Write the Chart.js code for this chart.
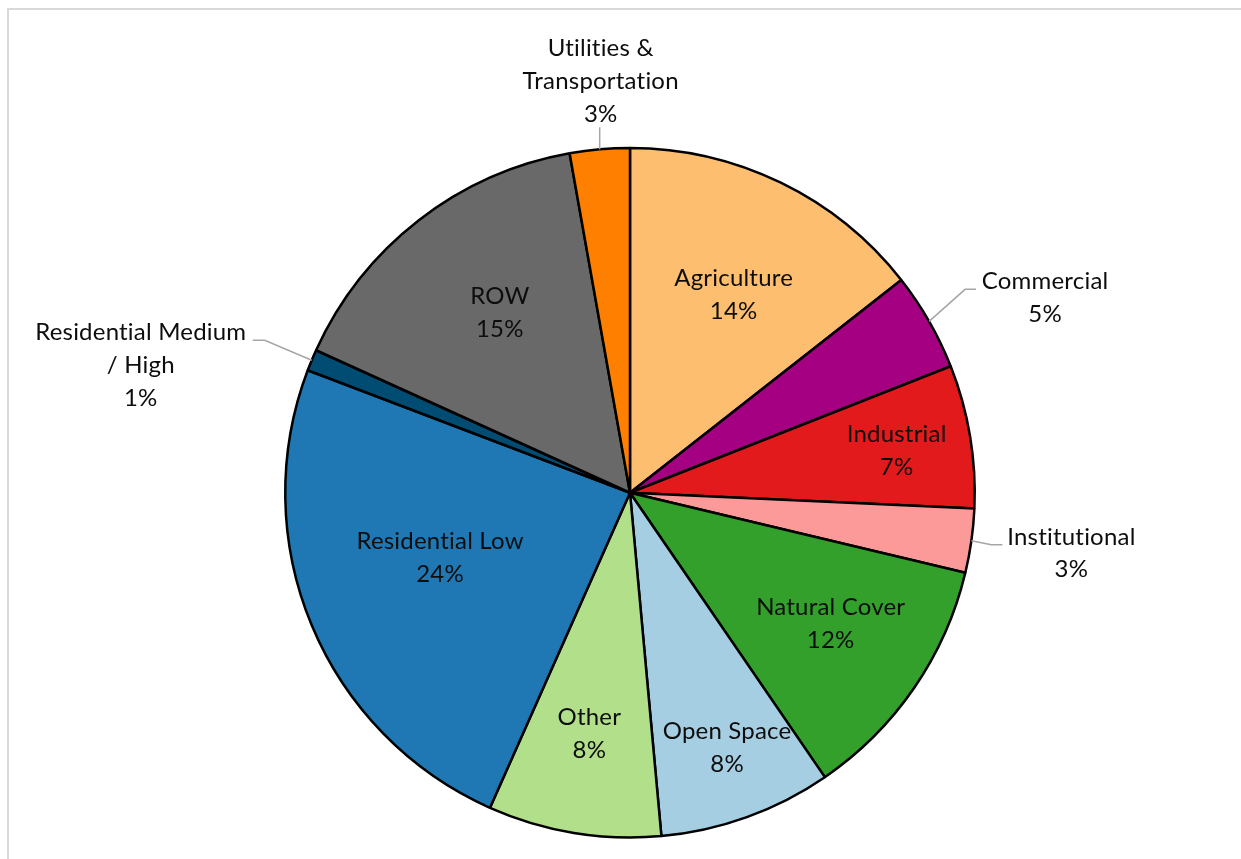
<!DOCTYPE html>
<html>
<head>
<meta charset="utf-8">
<script src="https://cdn.jsdelivr.net/npm/chart.js@4.4.1/dist/chart.umd.min.js"></script>
<style>
  html, body { margin: 0; padding: 0; background: #fff; overflow: hidden; }
  #frame { position: absolute; left: 7px; top: 8px; width: 1400px; height: 1000px; border: 2px solid #D9D9D9; box-sizing: border-box; }
  #wrap { position: absolute; left: 0; top: 0; width: 1241px; height: 859px; }
</style>
</head>
<body>
<div id="frame"></div>
<div id="wrap"><canvas id="c" width="1241" height="859"></canvas></div>
<script>
// ---- data ----
const categories = ["Agriculture", "Commercial", "Industrial", "Institutional", "Natural Cover",
  "Open Space", "Other", "Residential Low", "Residential Medium / High", "ROW", "Utilities & Transportation"];
const labelLines = [["Agriculture"], ["Commercial"], ["Industrial"], ["Institutional"], ["Natural Cover"],
  ["Open Space"], ["Other"], ["Residential Low"], ["Residential Medium", "/ High"], ["ROW"], ["Utilities &", "Transportation"]];
const shares = [14.4, 4.6, 6.7, 3.0, 11.7, 8.1, 8.1, 24.1, 1.0, 15.4, 2.8];
const colors = ["#FDBF6F", "#A50082", "#E31A1C", "#FB9A99", "#33A02C",
  "#A6CEE3", "#B2DF8A", "#1F78B4", "#004C73", "#696969", "#FF7F00"];

// ---- label placement (style) ----
// inside: radial fraction + angle tweak (deg); outside: leader geometry relative to the arc edge
const labelLayout = [
  { inside: true, rf: 0.648, da: 1.7 },
  { inside: false, d1: [36, -32], d2: 11, tx: 69, ty: -8 },
  { inside: true, rf: 0.783, da: 0.5 },
  { inside: false, d1: [20, 4], d2: 11, tx: 69, ty: -8 },
  { inside: true, rf: 0.695, da: -1.4 },
  { inside: true, rf: 0.792, da: -1.0 },
  { inside: true, rf: 0.71, da: 0.2 },
  { inside: true, rf: 0.582, da: 3.8 },
  { inside: false, d1: [-47, -20], d2: -12, tx: -112, ty: -8 },
  { inside: true, rf: 0.645, da: 2.0 },
  { inside: false, d1: [0, -22], d2: 0, tx: 1, ty: -79 }
];

const FONT = '24px Lato, "Open Sans", sans-serif';
const LINE_H = 32.8;

const labelPlugin = {
  id: "sliceLabels",
  afterDatasetsDraw(chart) {
    const ctx = chart.ctx;
    const meta = chart.getDatasetMeta(0);
    const data = chart.data.datasets[0].data;
    const total = data.reduce((a, b) => a + b, 0);
    ctx.save();
    ctx.font = FONT;
    if ("letterSpacing" in ctx) ctx.letterSpacing = "0.2px";
    ctx.fillStyle = "#0d0d0d";
    ctx.textBaseline = "middle";
    ctx.textAlign = "center";
    meta.data.forEach((arc, i) => {
      const p = arc.getProps(["x", "y", "startAngle", "endAngle", "outerRadius"], true);
      const L = labelLayout[i];
      const pct = Math.round(data[i] / total * 100) + "%";
      const lines = labelLines[i].concat([pct]);
      const mid = (p.startAngle + p.endAngle) / 2;
      if (L.inside) {
        const a = mid + L.da * Math.PI / 180;
        const r = p.outerRadius * L.rf;
        const cx = p.x + Math.cos(a) * r;
        const cy = p.y + Math.sin(a) * r;
        const y0 = cy - (lines.length - 1) * LINE_H / 2;
        lines.forEach((t, k) => ctx.fillText(t, cx, y0 + k * LINE_H));
      } else {
        const ex = p.x + Math.cos(mid) * p.outerRadius;
        const ey = p.y + Math.sin(mid) * p.outerRadius;
        const bx = ex + L.d1[0], by = ey + L.d1[1];
        const fx = bx + L.d2, fy = by;
        ctx.save();
        ctx.strokeStyle = "#A6A6A6";
        ctx.lineWidth = 1.5;
        ctx.beginPath();
        ctx.moveTo(ex, ey);
        ctx.lineTo(bx, by);
        if (L.d2 !== 0) ctx.lineTo(fx, fy);
        ctx.stroke();
        ctx.restore();
        const cx = fx + L.tx;
        const y0 = fy + L.ty;
        lines.forEach((t, k) => ctx.fillText(t, cx, y0 + k * LINE_H));
      }
    });
    ctx.restore();
  }
};

new Chart(document.getElementById("c"), {
  type: "pie",
  data: {
    labels: categories,
    datasets: [{
      data: shares,
      backgroundColor: colors,
      borderColor: "#000000",
      borderWidth: 2.5,
      hoverOffset: 0
    }]
  },
  options: {
    responsive: false,
    animation: false,
    layout: { padding: { left: 284, right: 265, top: 146.5, bottom: 20 } },
    plugins: { legend: { display: false }, tooltip: { enabled: false } }
  },
  plugins: [labelPlugin]
});
</script>
</body>
</html>
